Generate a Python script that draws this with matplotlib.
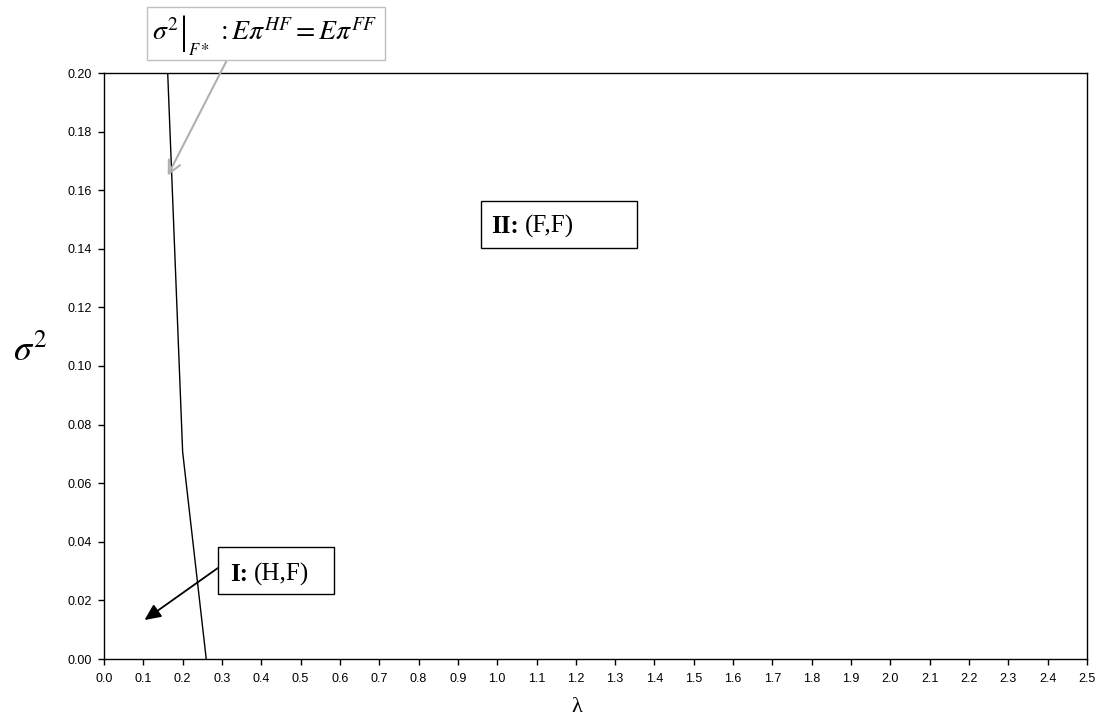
import numpy as np
import matplotlib
matplotlib.use('Agg')
import matplotlib.pyplot as plt
import matplotlib.patches as patches

plt.rcParams['mathtext.fontset'] = 'stix'
plt.rcParams['font.family'] = 'Liberation Sans'

# boundary curve sigma^2|F* : E pi^HF = E pi^FF
lam = [0.26, 0.20, 0.162]
sigma2 = [0.0, 0.0707, 0.20]

x_ticks = np.round(np.arange(0, 2.51, 0.1), 1)
y_ticks = np.round(np.arange(0, 0.201, 0.02), 2)

W, H = 1103, 722
fig = plt.figure(figsize=(W / 100, H / 100), dpi=100)
ax = fig.add_axes([104 / W, 1 - 659 / H, (1087 - 104) / W, (659 - 73) / H])

ax.plot(lam, sigma2, color='black', lw=1.0)

ax.set_xlim(0, 2.5)
ax.set_ylim(0, 0.20)
ax.set_xticks(x_ticks)
ax.set_xticklabels([f'{v:.1f}' for v in x_ticks])
ax.set_yticks(y_ticks)
ax.set_yticklabels([f'{v:.2f}' for v in y_ticks])
ax.tick_params(labelsize=9, length=4, width=1, direction='out')
ax.tick_params(axis='x', pad=6)
ax.tick_params(axis='y', pad=5)
for s in ax.spines.values():
    s.set_linewidth(1.0)

ax.set_xlabel('λ', family='Liberation Serif', fontsize=16)
ax.xaxis.set_label_coords(0.481, -0.066)
ax.set_ylabel(r'$\sigma^2$', fontsize=26, rotation=0, va='center', ha='center')
ax.yaxis.set_label_coords(-0.075, 0.525)


def region_label(x0, y0, x1, y1, bold, rest, tx, ty):
    ax.add_patch(patches.Rectangle((x0, y0), x1 - x0, y1 - y0, fc='white',
                                   ec='black', lw=1, zorder=3))
    t = ax.text(tx, ty, bold, family='Liberation Serif', fontweight='bold',
                fontsize=18, ha='left', va='center', zorder=4)
    ax.annotate(rest, xy=(1, 0), xycoords=t, xytext=(4, 0),
                textcoords='offset points', family='Liberation Serif',
                fontsize=18, ha='left', va='bottom', zorder=4)


# region I
ax.annotate('', xy=(0.103, 0.0133), xytext=(0.289, 0.031),
            arrowprops=dict(arrowstyle='-|>,head_length=0.65,head_width=0.3',
                            color='black', lw=1.3, mutation_scale=15,
                            shrinkA=0, shrinkB=0))
region_label(0.289, 0.0222, 0.584, 0.0382, 'I:', '(H,F)', 0.32, 0.0287)

# region II
region_label(0.958, 0.1403, 1.355, 0.1563, 'II:', '(F,F)', 0.985, 0.1475)

# boundary label box (above the axes)
fig.add_artist(patches.Rectangle((147 / W, 1 - 60 / H), 238 / W, 53 / H,
                                 transform=fig.transFigure, fc='white',
                                 ec='#bfbfbf', lw=1))
base = 1 - 40 / H
fig.text(152 / W, base, r'$\sigma^2$', fontsize=20, ha='left', va='baseline')
fig.text(180 / W, 1 - 33 / H, '|', family='Liberation Serif', fontsize=29,
         ha='left', va='center')
fig.text(188 / W, 1 - 55 / H, r'$F*$', fontsize=12, ha='left', va='baseline')
fig.text(216 / W, base, r'$:E\pi^{HF}=E\pi^{FF}$', fontsize=20,
         ha='left', va='baseline')
ax.annotate('', xy=(0.162, 0.165), xytext=(227 / W, 1 - 60 / H),
            textcoords='figure fraction', annotation_clip=False,
            arrowprops=dict(arrowstyle='->,head_length=0.6,head_width=0.3',
                            color='#b0b0b0', lw=1.5, mutation_scale=15,
                            shrinkA=0, shrinkB=0))

fig.savefig('out.png', dpi=100)
